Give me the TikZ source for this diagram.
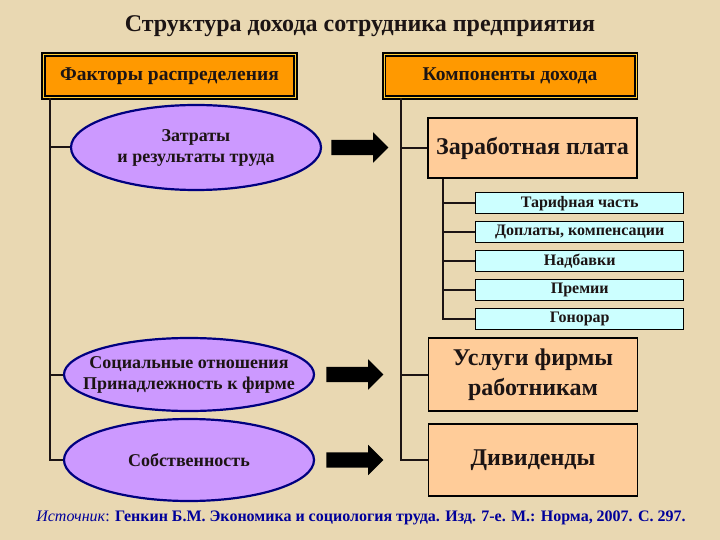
\documentclass[tikz,border=0pt]{standalone}
\usepackage{fontspec}
\setmainfont{Liberation Serif}
\usepackage{xcolor}
\definecolor{parch}{HTML}{E9D8B2}
\definecolor{hdrorange}{HTML}{FF9900}
\definecolor{hdrlight}{HTML}{FFCC33}
\definecolor{peach}{HTML}{FFCC99}
\definecolor{icecyan}{HTML}{CCFFFF}
\definecolor{lilac}{HTML}{CC99FF}
\definecolor{navyline}{HTML}{000080}
\definecolor{srcblue}{HTML}{00009A}
\definecolor{ink}{HTML}{1C1414}
\usetikzlibrary{positioning,shapes.geometric,shapes.arrows}
\tikzset{
  hdr/.style={draw=black,fill=hdrorange,line width=1.6pt,double=hdrlight,double distance=1pt,
    minimum width=252pt,minimum height=43pt,inner sep=0pt,text=ink,
    font=\fontsize{19.5}{22}\selectfont\bfseries},
  fac/.style={ellipse,draw=navyline,fill=lilac,line width=2.2pt,minimum width=250pt,inner ysep=0pt,
    inner xsep=-40pt,align=center,text=ink,font=\fontsize{18}{21}\selectfont\bfseries},
  comp/.style={draw=black,fill=peach,line width=1.6pt,minimum width=209pt,inner sep=0pt,
    align=center,text=ink,font=\fontsize{24}{30}\selectfont\bfseries},
  part/.style={draw=black,fill=icecyan,line width=1.4pt,minimum width=208pt,minimum height=21pt,
    inner sep=0pt,text=ink,font=\fontsize{16}{18}\selectfont\bfseries},
  bigarrow/.style={single arrow,fill=black,inner sep=0pt,inner ysep=7.5pt,
    single arrow head extend=7.5pt,minimum height=57pt},
  tree/.style={draw=ink,line width=2pt},
}
\begin{document}
\begin{tikzpicture}[x=1pt,y=-1pt]
  \fill[parch] (0,0) rectangle (720,540);
  \useasboundingbox (0,0) rectangle (720,540);
  \node[font=\fontsize{24}{28}\selectfont\bfseries,text=ink] (title) at (360,26) {Структура дохода сотрудника предприятия};
  \node[hdr] (hfac) at (169.5,76) {Факторы распределения};
  \node[hdr] (hcomp) at (510,76) {Компоненты дохода};
  % factors
  \node[fac,minimum height=85pt] (f1) at (196,147.5) {Затраты\\и результаты труда};
  \node[fac,minimum height=73pt] (f2) at (189,374.5) {Социальные отношения\\Принадлежность к фирме};
  \node[fac,minimum height=82pt] (f3) at (189,460) {Собственность};
  % components
  \node[comp,minimum height=60pt] (wage) at (532.5,148) {Заработная плата};
  \node[part,anchor=north west] (p1) at (475,192) {Тарифная часть};
  \node[part,below=6.5pt of p1] (p2) {Доплаты, компенсации};
  \node[part,below=6.5pt of p2] (p3) {Надбавки};
  \node[part,below=6.5pt of p3] (p4) {Премии};
  \node[part,below=6.5pt of p4] (p5) {Гонорар};
  \node[comp,minimum height=73pt] (serv) at (533,374.5) {Услуги фирмы\\работникам};
  \node[comp,minimum height=72pt] (divs) at (533,460) {Дивиденды};
  % block arrows
  \node[bigarrow,right=9pt of f1] (a1) {};
  \node[bigarrow,right=11pt of f2] (a2) {};
  \node[bigarrow,right=11pt of f3] (a3) {};
  % trees
  \coordinate (lt) at ([xshift=7pt]hfac.south west);
  \coordinate (rt) at ([xshift=18pt]hcomp.south west);
  \coordinate (st) at ([xshift=16pt]wage.south west);
  \draw[tree] (lt) |- (f3.west);
  \draw[tree] (f1.west -| lt) -- (f1.west);
  \draw[tree] (f2.west -| lt) -- (f2.west);
  \draw[tree] (rt) |- (divs.west);
  \draw[tree] (wage.west -| rt) -- (wage.west);
  \draw[tree] (serv.west -| rt) -- (serv.west);
  \draw[tree] (st) |- (p5.west);
  \foreach \p in {p1,p2,p3,p4}
    \draw[tree] (\p.west -| st) -- (\p.west);
  \node[text=srcblue,font=\fontsize{16}{18}\selectfont] (src) at (361,518)
    {\textit{Источник}: \textbf{Генкин Б.М. Экономика и социология труда. Изд. 7-е. М.: Норма, 2007. С. 297.}};
\end{tikzpicture}
\end{document}
